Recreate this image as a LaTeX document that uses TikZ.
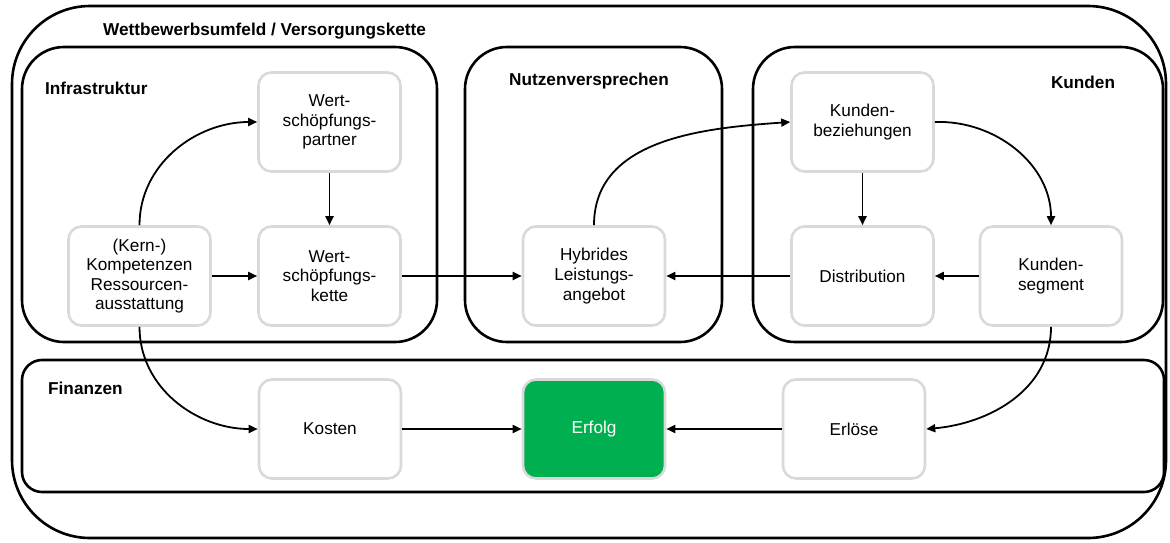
\documentclass[tikz,border=0pt]{standalone}
\usepackage{fontspec}
\setmainfont{Liberation Sans}
\usetikzlibrary{arrows.meta}
\definecolor{boxgray}{HTML}{D9D9D9}
\definecolor{okgreen}{HTML}{00B050}
\begin{document}
\begin{tikzpicture}[x=1pt,y=-1pt,
  frame/.style={draw=black, line width=2.6pt},
  box/.style={draw=boxgray, line width=2.6pt, fill=white, rounded corners=13pt,
    minimum width=142pt, minimum height=99pt, align=center, inner sep=2pt,
    font=\fontsize{17.2}{19.6}\selectfont},
  hdr/.style={font=\fontsize{17.2}{20}\selectfont\bfseries, inner sep=0pt},
  arr/.style={draw=black, line width=1.8pt, -{Triangle[length=9pt,width=8pt]}}]
\useasboundingbox (0,0) rectangle (1170,542);

% outer frame and the four areas
\draw[frame, rounded corners=78pt] (12,6) rectangle (1166,538);
\draw[frame, rounded corners=42pt] (22,47) rectangle (437,342);
\draw[frame, rounded corners=42pt] (465,47) rectangle (722,342);
\draw[frame, rounded corners=42pt] (753,47) rectangle (1163,342);
\draw[frame, rounded corners=20pt] (22,360) rectangle (1164,492);

% area titles
\node[hdr, anchor=west] (tWett) at (103,31) {Wettbewerbsumfeld / Versorgungskette};
\node[hdr, anchor=west] (tInfra) at (45,88) {Infrastruktur};
\node[hdr] (tNutzen) at (589,81) {Nutzenversprechen};
\node[hdr] (tKunden) at (1083,82) {Kunden};
\node[hdr, anchor=west] (tFin) at (48,388) {Finanzen};

% building blocks
\node[box] (wsp) at (329.5,122) {Wert-\\schöpfungs-\\partner};
\node[box] (wsk) at (329.5,276) {Wert-\\schöpfungs-\\kette};
\node[box] (komp) at (139.5,276) {(Kern-)\\Kompetenzen\\Ressourcen-\\ausstattung};
\node[box] (hyb) at (594,276) {Hybrides\\Leistungs-\\angebot};
\node[box] (kb) at (862.5,122) {Kunden-\\beziehungen};
\node[box] (dist) at (862.5,276) {Distribution};
\node[box] (ks) at (1051,276) {Kunden-\\segment};
\node[box] (kost) at (330,429) {Kosten};
\node[box, fill=okgreen, text=white] (erf) at (594,429) {Erfolg};
\node[box] (erl) at (854,429) {Erlöse};

% connections
\draw[arr] (komp.north) to[out=90, in=180] (wsp.west);
\draw[arr] (komp.south) to[out=-90, in=180] (kost.west);
\draw[arr] (komp) -- (wsk);
\draw[arr] (wsp) -- (wsk);
\draw[arr] (wsk) -- (hyb);
\draw[arr] (dist) -- (hyb);
\draw[arr] (ks) -- (dist);
\draw[arr] (kb) -- (dist);
\draw[arr] (hyb.north) to[out=90, in=184] (kb.west);
\draw[arr] (kb.east) to[out=2, in=90] (ks.north);
\draw[arr] (ks.south) to[out=-90, in=5] (erl.east);
\draw[arr] (kost) -- (erf);
\draw[arr] (erl) -- (erf);
\end{tikzpicture}
\end{document}
